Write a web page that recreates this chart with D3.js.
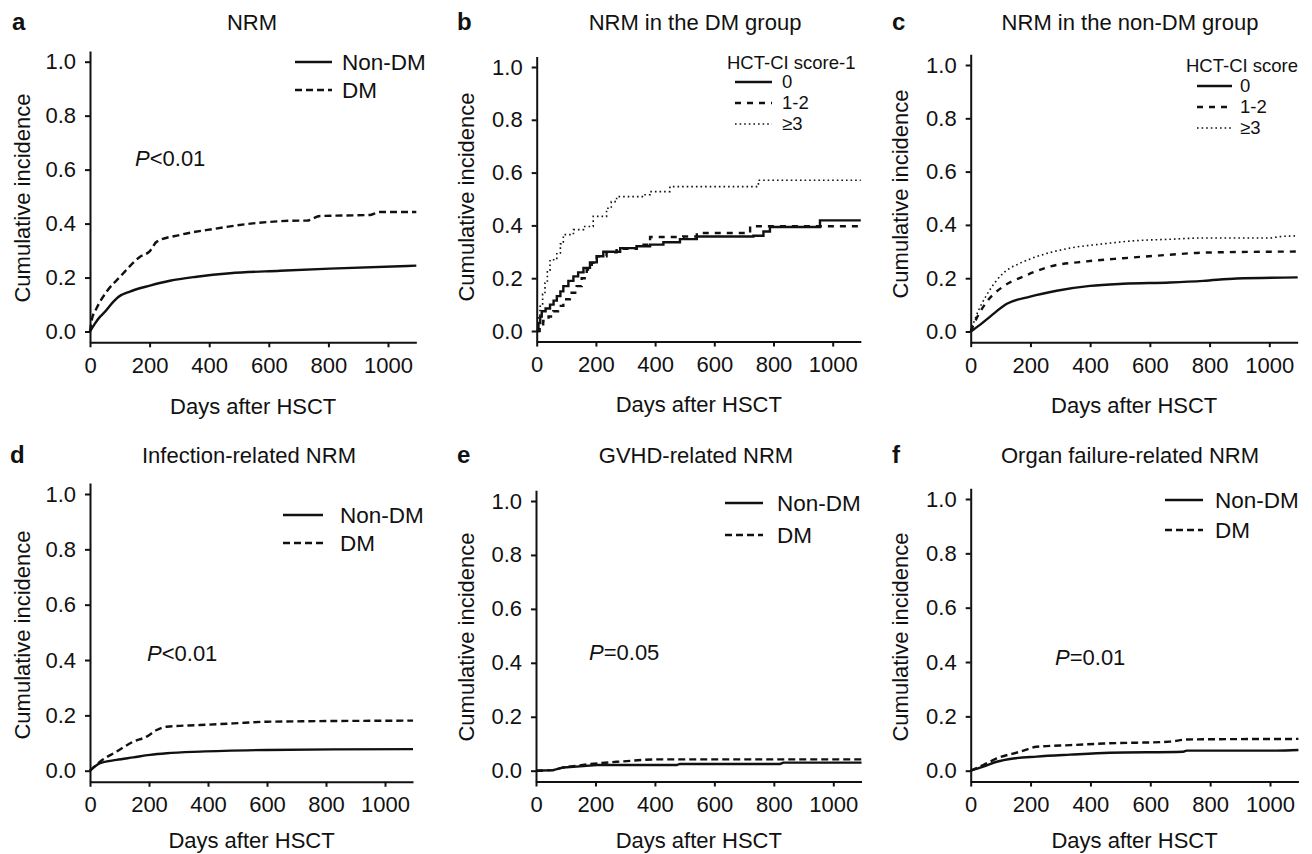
<!DOCTYPE html>
<html>
<head>
<meta charset="utf-8">
<script src="https://cdn.jsdelivr.net/npm/d3@7"></script>
<style>
  body { margin: 0; background: #fff; }
  text { font-family: "Liberation Sans", Arial, Helvetica, sans-serif; fill: #111; }
</style>
</head>
<body>
<script>
// Data: [days after HSCT, cumulative incidence]
const dayTicks = [0, 200, 400, 600, 800, 1000];
const ciTicks = [0, 0.2, 0.4, 0.6, 0.8, 1.0];
const maxDay = 1095;

// a - NRM
const nrmNonDM = [[0,0],[17,0.03],[34,0.055],[45,0.067],[78,0.11],[95,0.128],[134,0.148],[201,0.17],[268,0.188],[358,0.203],[470,0.216],[638,0.225],[805,0.233],[1095,0.244]];
const nrmDM = [[0,0],[6,0.043],[22,0.086],[56,0.148],[101,0.203],[168,0.277],[201,0.298],[224,0.333],[302,0.358],[414,0.38],[526,0.398],[705,0.411],[727,0.411],[772,0.428],[940,0.432],[973,0.443],[1095,0.443]];

// b - NRM in the DM group, by HCT-CI score-1
const dmScore0 = [[0,0],[6,0.03],[12,0.055],[17,0.075],[30,0.085],[45,0.1],[57,0.115],[68,0.132],[80,0.15],[90,0.17],[107,0.19],[124,0.207],[140,0.222],[158,0.239],[180,0.26],[203,0.283],[225,0.3],[282,0.314],[338,0.321],[383,0.327],[428,0.336],[484,0.348],[541,0.358],[732,0.361],[766,0.377],[788,0.394],[957,0.419],[1095,0.419]];
const dmScore12 = [[0,0],[10,0.02],[22,0.038],[40,0.055],[56,0.075],[72,0.095],[90,0.12],[112,0.145],[135,0.17],[152,0.2],[169,0.233],[186,0.258],[203,0.283],[236,0.298],[270,0.311],[338,0.327],[383,0.356],[495,0.358],[541,0.371],[721,0.397],[1095,0.397]];
const dmScore3 = [[0,0],[5,0.05],[11,0.094],[20,0.14],[28,0.182],[36,0.23],[45,0.27],[68,0.296],[80,0.33],[90,0.365],[124,0.384],[158,0.396],[191,0.434],[236,0.465],[252,0.49],[270,0.509],[360,0.516],[383,0.528],[450,0.547],[749,0.571],[1095,0.571]];

// c - NRM in the non-DM group, by HCT-CI score
const nonDmScore0 = [[0,0],[31,0.025],[65,0.056],[121,0.104],[199,0.131],[288,0.153],[400,0.171],[511,0.179],[667,0.184],[779,0.19],[891,0.199],[1095,0.203]];
const nonDmScore12 = [[0,0],[20,0.05],[54,0.112],[109,0.169],[176,0.206],[266,0.244],[388,0.263],[511,0.275],[667,0.288],[779,0.296],[1095,0.3]];
const nonDmScore3 = [[0,0],[20,0.063],[54,0.138],[109,0.219],[165,0.256],[221,0.281],[333,0.313],[444,0.329],[556,0.341],[667,0.346],[779,0.351],[1002,0.351],[1036,0.356],[1095,0.359]];

// d - infection-related NRM
const infNonDM = [[0,0],[34,0.027],[90,0.039],[147,0.048],[203,0.057],[260,0.063],[373,0.069],[599,0.075],[825,0.077],[1095,0.078]];
const infDM = [[0,0],[34,0.033],[90,0.069],[147,0.105],[192,0.123],[226,0.147],[260,0.159],[373,0.165],[486,0.171],[599,0.177],[1095,0.181]];

// e - GVHD-related NRM
const gvhdNonDM = [[0,0],[58,0.002],[92,0.012],[159,0.017],[204,0.021],[473,0.021],[484,0.025],[821,0.025],[832,0.03],[1095,0.03]];
const gvhdDM = [[0,0],[58,0.002],[92,0.012],[182,0.025],[271,0.033],[361,0.04],[395,0.042],[1095,0.042]];

// f - organ failure-related NRM
const organNonDM = [[0,0],[42,0.015],[87,0.033],[143,0.045],[220,0.052],[332,0.059],[465,0.066],[710,0.07],[722,0.074],[1022,0.074],[1095,0.076]];
const organDM = [[0,0],[42,0.021],[87,0.045],[165,0.07],[220,0.088],[332,0.094],[443,0.1],[666,0.107],[722,0.115],[1095,0.117]];

// line styles
const styles = {
  solid:  { width: 2.4, dash: null },
  dashed: { width: 2.4, dash: "7,4" },
  dash2:  { width: 2.4, dash: "6,6" },
  dotted: { width: 1.6, dash: "1.6,3" }
};

const svg = d3.select('body')
  .append('svg')
  .attr('width', 1312)
  .attr('height', 854);

const panels = [
  { letter: 'a', title: 'NRM', x0: 90, x1: 388, y0: 331.5, y1: 61.7, top: 30, letterX: 12, titleX: 252,
    yLabX: 30, yLabY: 198, xLabY: 414, curve: d3.curveMonotoneX, p: '<0.01', pX: 135, pY: 166,
    legend: { x: 295, len: 37, tx: 342, y: 62, dy: 28, size: 22.5 },
    series: [{ name: 'Non-DM', data: nrmNonDM, style: 'solid' }, { name: 'DM', data: nrmDM, style: 'dashed' }] },
  { letter: 'b', title: 'NRM in the DM group', x0: 536.7, x1: 832.7, y0: 331, y1: 67, top: 29.5, letterX: 457, titleX: 695,
    yLabX: 474, yLabY: 197, xLabY: 412, curve: d3.curveStepAfter,
    legend: { head: 'HCT-CI score-1', hx: 727, hy: 69, x: 735, len: 37, tx: 782, y: 82, dy: 21, size: 18.5 },
    series: [{ name: '0', data: dmScore0, style: 'solid' }, { name: '1-2', data: dmScore12, style: 'dash2' }, { name: '≥3', data: dmScore3, style: 'dotted' }] },
  { letter: 'c', title: 'NRM in the non-DM group', x0: 970.7, x1: 1269.3, y0: 331.5, y1: 65, top: 30, letterX: 892, titleX: 1130,
    yLabX: 908, yLabY: 194, xLabY: 413, curve: d3.curveMonotoneX,
    legend: { head: 'HCT-CI score', hx: 1186, hy: 71.5, x: 1197, len: 35, tx: 1240, y: 86, dy: 21, size: 18.5 },
    series: [{ name: '0', data: nonDmScore0, style: 'solid' }, { name: '1-2', data: nonDmScore12, style: 'dash2' }, { name: '≥3', data: nonDmScore3, style: 'dotted' }] },
  { letter: 'd', title: 'Infection-related NRM', x0: 90, x1: 385, y0: 770.7, y1: 494, top: 463, letterX: 10, titleX: 249,
    yLabX: 30, yLabY: 635, xLabY: 848, curve: d3.curveMonotoneX, p: '<0.01', pX: 147, pY: 661,
    legend: { x: 283, len: 40, tx: 340, y: 515, dy: 28, size: 22.5 },
    series: [{ name: 'Non-DM', data: infNonDM, style: 'solid' }, { name: 'DM', data: infDM, style: 'dashed' }] },
  { letter: 'e', title: 'GVHD-related NRM', x0: 536, x1: 833.3, y0: 770.7, y1: 501, top: 463, letterX: 457, titleX: 696,
    yLabX: 473.5, yLabY: 637, xLabY: 848, curve: d3.curveLinear, p: '=0.05', pX: 589, pY: 660,
    legend: { x: 725, len: 38, tx: 777, y: 503, dy: 32, size: 22.5 },
    series: [{ name: 'Non-DM', data: gvhdNonDM, style: 'solid' }, { name: 'DM', data: gvhdDM, style: 'dashed' }] },
  { letter: 'f', title: 'Organ failure-related NRM', x0: 970.7, x1: 1270, y0: 770.7, y1: 499, top: 463, letterX: 892, titleX: 1130,
    yLabX: 908, yLabY: 637, xLabY: 848, curve: d3.curveMonotoneX, p: '=0.01', pX: 1055, pY: 665,
    legend: { x: 1165, len: 38, tx: 1215, y: 500, dy: 30, size: 22.5 },
    series: [{ name: 'Non-DM', data: organNonDM, style: 'solid' }, { name: 'DM', data: organDM, style: 'dashed' }] }
];

panels.forEach(drawPanel);

function drawPanel(p) {
  const g = svg.append('g');

  // scales: x runs to ~3 years, y axis stretches a little past 0 and 1
  const pxPerDay = (p.x1 - p.x0) / 1000;
  const h = p.y0 - p.y1;
  const x = d3.scaleLinear().domain([0, maxDay]).range([p.x0, p.x0 + maxDay * pxPerDay]);
  const y = d3.scaleLinear().domain([-0.04, 1.04]).range([p.y0 + 0.04 * h, p.y1 - 0.04 * h]);

  // axes
  const yAxis = d3.axisLeft(y).tickValues(ciTicks).tickFormat(d3.format('.1f'))
    .tickSizeInner(5).tickSizeOuter(0).tickPadding(9);
  g.append('g')
    .attr('transform', `translate(${p.x0},0)`)
    .call(yAxis)
    .call(styleAxis);

  const xAxis = d3.axisBottom(x).tickValues(dayTicks).tickFormat(d3.format('d'))
    .tickSizeInner(5).tickSizeOuter(0).tickPadding(10);
  g.append('g')
    .attr('transform', `translate(0,${y(-0.04)})`)
    .call(xAxis)
    .call(styleAxis);

  // curves
  const line = d3.line()
    .x(d => x(d[0]))
    .y(d => y(d[1]))
    .curve(p.curve);

  p.series.forEach(s => {
    const st = styles[s.style];
    g.append('path')
      .datum(s.data)
      .attr('d', line)
      .attr('fill', 'none')
      .attr('stroke', '#111')
      .attr('stroke-width', st.width)
      .attr('stroke-dasharray', st.dash);
  });

  // labels
  g.append('text')
    .attr('x', p.letterX).attr('y', p.top)
    .style('font-size', '24px').style('font-weight', 'bold')
    .text(p.letter);

  g.append('text')
    .attr('x', p.titleX).attr('y', p.top)
    .attr('text-anchor', 'middle')
    .style('font-size', '22px')
    .text(p.title);

  g.append('text')
    .attr('transform', `translate(${p.yLabX},${p.yLabY})rotate(-90)`)
    .attr('text-anchor', 'middle')
    .style('font-size', '22px')
    .text('Cumulative incidence');

  g.append('text')
    .attr('x', (x.range()[0] + x.range()[1]) / 2).attr('y', p.xLabY)
    .attr('text-anchor', 'middle')
    .style('font-size', '22px')
    .text('Days after HSCT');

  if (p.p) {
    const t = g.append('text')
      .attr('x', p.pX).attr('y', p.pY)
      .style('font-size', '22px');
    t.append('tspan').style('font-style', 'italic').text('P');
    t.append('tspan').text(p.p);
  }

  // legend
  const lg = p.legend;
  if (lg.head) {
    g.append('text')
      .attr('x', lg.hx).attr('y', lg.hy)
      .style('font-size', lg.size + 'px')
      .text(lg.head);
  }
  p.series.forEach((s, i) => {
    const st = styles[s.style];
    const ly = lg.y + i * lg.dy;
    g.append('line')
      .attr('x1', lg.x).attr('x2', lg.x + lg.len)
      .attr('y1', ly).attr('y2', ly)
      .attr('stroke', '#111')
      .attr('stroke-width', st.width)
      .attr('stroke-dasharray', st.dash);
    g.append('text')
      .attr('x', lg.tx).attr('y', ly)
      .attr('dy', '0.35em')
      .style('font-size', lg.size + 'px')
      .text(s.name);
  });
}

function styleAxis(sel) {
  sel.select('.domain').attr('stroke', '#111').attr('stroke-width', 2);
  sel.selectAll('.tick line').attr('stroke', '#111').attr('stroke-width', 2);
  sel.selectAll('.tick text')
    .style('font-size', '22px')
    .style('font-family', '"Liberation Sans", Arial, Helvetica, sans-serif')
    .attr('fill', '#111');
}
</script>
</body>
</html>
